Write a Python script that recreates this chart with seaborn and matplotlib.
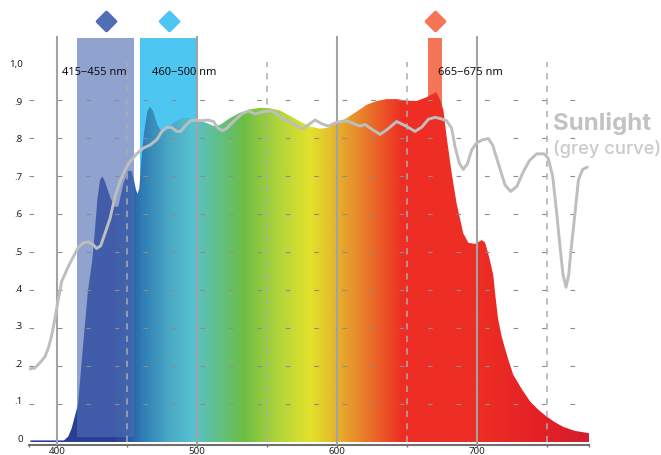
import matplotlib
matplotlib.use('Agg')
import matplotlib.pyplot as plt
from matplotlib.colors import LinearSegmentedColormap
from matplotlib.markers import MarkerStyle
import numpy as np
import seaborn as sns

# Spektrum lampu (area berwarna)
spectrum_nm = [381, 405, 408, 410.5, 412.5, 415, 418.5, 422, 425.2, 427.1, 428.8, 430.7, 432.4, 434.3, 437.9, 440.9, 443.8,
               447.4, 450.9, 453.3, 455, 456.4, 457.6, 458.8, 460.5, 462.1, 464.5, 466.4, 468.8, 471.7, 474.8, 478.4, 483,
               489, 495, 499.8, 507, 512, 516.4, 523.6, 530.7, 537.9, 545, 552, 559.3, 566.4, 573.6, 580.7, 587.9, 593.8,
               599.8, 606.9, 614, 621.2, 628.4, 635.5, 642.6, 650, 656.9, 664, 668.8, 671, 673.6, 676, 678.3, 681.9, 685.4,
               690.2, 693.8, 698.6, 703.4, 705.7, 708, 709.8, 711.6, 713, 715, 717.5, 720, 723, 726, 732, 738, 744, 750,
               756, 762, 770, 780]
spectrum_val = [0.005, 0.005, 0.015, 0.037, 0.065, 0.1, 0.25, 0.395, 0.48, 0.559, 0.638, 0.69, 0.70, 0.686, 0.646, 0.62, 0.62,
                0.681, 0.714, 0.714, 0.69, 0.664, 0.654, 0.668, 0.752, 0.813, 0.87, 0.883, 0.87, 0.835, 0.817, 0.822, 0.84,
                0.853, 0.854, 0.848, 0.84, 0.832, 0.835, 0.853, 0.867, 0.876, 0.88, 0.879, 0.873, 0.859, 0.844, 0.831, 0.825, 0.828,
                0.84, 0.853, 0.87, 0.888, 0.898, 0.903, 0.903, 0.899, 0.898, 0.908, 0.917, 0.921, 0.901, 0.875, 0.804, 0.709, 0.629,
                0.55, 0.525, 0.522, 0.532, 0.526, 0.497, 0.47, 0.44, 0.39, 0.326, 0.28, 0.247, 0.21, 0.177, 0.14, 0.107, 0.085, 0.067,
                0.052, 0.04, 0.03, 0.024]

# Kurva sinar matahari (abu-abu)
sun_nm = [380, 384, 388, 391.4, 394, 396, 398, 399.8, 403.3, 408, 411.2, 415.2, 418.8, 422.4, 425.2, 428.3, 431.2, 434.3, 437.9,
          441.4, 445, 448.6, 452.1, 456.9, 461.6, 466.4, 471.2, 474.8, 478.4, 482, 485.5, 488.4, 491.4, 495.5, 499.8,
          502, 508, 511.7, 515.2, 518.4, 521.2, 526, 532, 536.7, 541.4, 547.4, 553.4, 557, 561.7, 566.4, 572.4, 576,
          579.5, 584.3, 589.1, 593.8, 599.8, 606.9, 612.9, 616.4, 620, 624.8, 630.7, 635.5, 642.6, 649.8, 655.7, 660.5,
          665.3, 670, 673.6, 678.3, 681.9, 684.3, 687.4, 690.2, 693.1, 696.2, 699.8, 704.1, 708.1, 711.2, 715.2, 720, 724,
          728.4, 733.1, 737.4, 742.6, 747.9, 750.9, 754.1, 756.9, 759.8, 761.5, 763.6, 765.5, 766.9, 770, 772.4, 775.5, 778.8]
sun_val = [0.193, 0.195, 0.21, 0.225, 0.25, 0.278, 0.315, 0.353, 0.423, 0.462, 0.485, 0.513, 0.525, 0.527, 0.522, 0.51, 0.517, 0.55, 0.589,
           0.646, 0.686, 0.717, 0.738, 0.759, 0.774, 0.782, 0.796, 0.817, 0.829, 0.828, 0.818, 0.818, 0.832, 0.846, 0.848,
           0.846, 0.848, 0.844, 0.826, 0.82, 0.826, 0.844, 0.864, 0.872, 0.864, 0.87, 0.872, 0.864, 0.85, 0.844, 0.829, 0.826,
           0.835, 0.848, 0.838, 0.832, 0.842, 0.846, 0.837, 0.832, 0.836, 0.824, 0.81, 0.822, 0.844, 0.831, 0.818, 0.829,
           0.85, 0.855, 0.852, 0.846, 0.826, 0.778, 0.734, 0.718, 0.732, 0.769, 0.788, 0.796, 0.799, 0.782, 0.734, 0.677, 0.66,
           0.673, 0.712, 0.741, 0.759, 0.759, 0.747, 0.699, 0.603, 0.497, 0.44, 0.408, 0.44, 0.497, 0.603, 0.69, 0.718, 0.724]

# Warna gradien menurut panjang gelombang
grad_nm = [380, 440, 452, 460, 480, 497, 510, 533, 555, 581, 595, 616, 647, 700, 750, 780]
grad_col = ['#2a3f94', '#2a3f94', '#2a5ca6', '#2f7bb5', '#4aa9c5', '#57c2d2', '#5fc09a', '#6cbe45', '#a9d23c',
            '#e3e22c', '#e4c02c', '#e8872b', '#ee2e24', '#ee2e24', '#e41f26', '#cf2030']

band_low = [414.6, 459.4, 665]
band_high = [455, 500, 675]
band_col = ['#4f6eb4', '#4dc6f2', '#f57558']
band_text = ['415\u2212455 nm', '460\u2212500 nm', '665\u2212675 nm']
band_text_x = [426.8, 490.7, 695.5]

y_ticks = [0, .1, .2, .3, .4, .5, .6, .7, .8, .9, 1.0]
y_labels = ['0', '.1', '.2', '.3', '.4', '.5', '.6', '.7', '.8', '.9', '1,0']
x_ticks = [400, 500, 600, 700]
dash_nm = [450, 550, 650, 750]

sns.set_theme(style='white')
plt.rcParams['font.family'] = ['Noto Sans', 'DejaVu Sans']
plt.rcParams['lines.scale_dashes'] = False

W, H = 661, 455
fig = plt.figure(figsize=(W / 100, H / 100), dpi=100)
ax = fig.add_axes([29 / W, 10 / H, 560 / W, 409 / H])
ax.set_xlim(380, 780)
ax.set_ylim(-0.0071, 1.069)
ax.patch.set_alpha(0)

# Pita biru muda dan merah ada di belakang spektrum
for i in [1, 2]:
    ax.bar((band_low[i] + band_high[i]) / 2, 1.064, band_high[i] - band_low[i], color=band_col[i], zorder=1, linewidth=0)

# Area spektrum: gambar gradien lalu dipotong mengikuti kurva
poly = ax.fill_between(spectrum_nm, 0, spectrum_val, facecolor='none', edgecolor='none', zorder=2)
grad_pos = (np.array(grad_nm) - 380) / 400
cmap = LinearSegmentedColormap.from_list('spektrum', list(zip(grad_pos, grad_col)))
im = ax.imshow(np.linspace(0, 1, 800).reshape(1, -1), extent=[380, 780, 0, 1], aspect='auto', cmap=cmap, zorder=2)
im.set_clip_path(poly.get_paths()[0], transform=ax.transData)
ax.set_xlim(380, 780)
ax.set_ylim(-0.0071, 1.069)

# Pita biru tua transparan di atas spektrum
ax.bar((band_low[0] + band_high[0]) / 2, 1.064 - 0.014, band_high[0] - band_low[0], bottom=0.014,
       color=band_col[0], alpha=0.63, zorder=3, linewidth=0)

# Garis bantu
ax.hlines(y_ticks[1:-1], 380, 775, color='#8c8c8c', lw=0.8, linestyles=[(0, (3.3, 17.2))], zorder=4)
ax.vlines(dash_nm, 0, 1.0, color='#a9adab', lw=1.1, linestyles=[(0, (4.5, 4.5))], zorder=4)
ax.vlines(x_ticks, -0.007, 1.069, color='#a0a5a3', lw=1.5, zorder=4)

sns.lineplot(x=sun_nm, y=sun_val, ax=ax, color='#bcbfbe', lw=2.1, zorder=5, solid_joinstyle='round',
             estimator=None, sort=False)

# Penanda wajik di atas pita
for lo, hi, c in zip(band_low, band_high, band_col):
    ax.scatter((lo + hi) / 2, 1.109, s=85, marker=MarkerStyle('D', joinstyle='round'), color=c, edgecolor=c,
               linewidth=2.5, clip_on=False, zorder=6)

for t, x in zip(band_text, band_text_x):
    ax.text(x, 0.972, t, ha='center', va='center', fontsize=8, color='#111111', zorder=7)

# Label sumbu y sedikit bergeser dari garisnya
for v, t in zip(y_ticks, y_labels):
    ax.text(375.6, v * 0.985 + 0.008, t, ha='right', va='center', fontsize=7, color='#222222', clip_on=False)

ax.text(754, 0.838, 'Sunlight', family=['Inter', 'DejaVu Sans'], fontweight='bold', fontsize=17.3, color='#c0c3c2',
        ha='left', va='center', zorder=7)
ax.text(754, 0.772, '(grey curve)', family=['Inter', 'DejaVu Sans'], fontweight='medium', fontsize=13.2, color='#c9cbca',
        ha='left', va='center', zorder=7)

for s in ['left', 'right', 'top']:
    ax.spines[s].set_visible(False)
ax.spines['bottom'].set_color('#6f6f6f')
ax.spines['bottom'].set_linewidth(1.5)
ax.set_yticks([])
ax.set_xticks([380] + x_ticks + dash_nm + [780])
ax.set_xticklabels([''] + [str(v) for v in x_ticks] + [''] * 5, fontsize=7, color='#222222')
ax.tick_params(axis='x', length=1.5, width=1, color='#6f6f6f', pad=0, bottom=True)
ax.set_xlabel('')
ax.set_ylabel('')
ax.grid(False)

fig.savefig('out.png', dpi=100)
